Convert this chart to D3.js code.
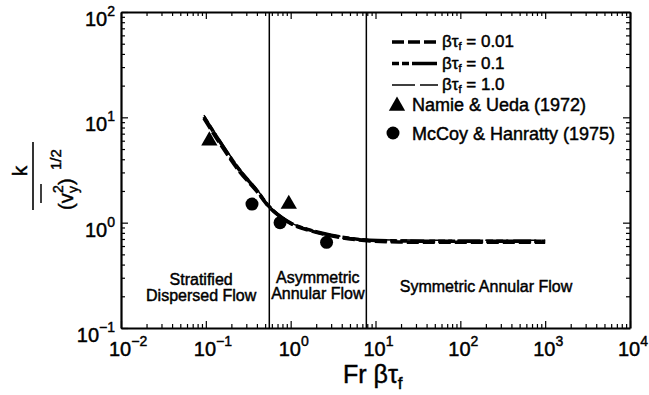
<!DOCTYPE html>
<html><head><meta charset="utf-8">
<script src="https://cdn.jsdelivr.net/npm/d3@7"></script>
<style>
body{margin:0;background:#fff;}
text{font-family:"Liberation Sans",Arial,Helvetica,sans-serif;fill:#000;stroke:#000;stroke-width:0.45px;}
</style></head>
<body><svg id="chart" width="649" height="395"></svg>
<script>
// ---- data ----
const curveX   = [0.095, 0.15, 0.25, 0.4, 0.55, 0.8, 1.0, 1.7, 3, 5, 8.6, 20, 50, 100, 300, 1000];
const bt001    = [9.8, 5.5, 3.05, 1.98, 1.42, 1.10, 0.98, 0.84, 0.75, 0.70, 0.67, 0.655, 0.65, 0.65, 0.65, 0.65];
const bt01     = [10.1, 5.7, 3.15, 2.02, 1.44, 1.11, 0.99, 0.85, 0.76, 0.71, 0.68, 0.67, 0.665, 0.665, 0.665, 0.665];
const bt1      = [10.5, 5.9, 3.25, 2.08, 1.47, 1.13, 1.00, 0.86, 0.77, 0.72, 0.69, 0.685, 0.68, 0.68, 0.68, 0.68];
const namieX   = [0.11, 0.95];
const namieY   = [6.0, 1.5];
const mccoyX   = [0.35, 0.75, 2.65];
const mccoyY   = [1.5, 1.0, 0.65];
const regimeBounds = [0.56, 7.8];
const xExps = [-2, -1, 0, 1, 2, 3, 4];
const yExps = [-1, 0, 1, 2];
const legendLines = ["0.01", "0.1", "1.0"];
const legendMarks = ["Namie & Ueda (1972)", "McCoy & Hanratty (1975)"];

const svg = d3.select("#chart");
const L = 121, R = 630, T = 12, B = 328;
const x = d3.scaleLog().domain([1e-2, 1e4]).range([L, R]);
const y = d3.scaleLog().domain([1e-1, 1e2]).range([B, T]);

function allTicks(e0, e1){ const t=[]; for(let e=e0;e<e1;e++) for(let m=1;m<10;m++) t.push(m*Math.pow(10,e)); t.push(Math.pow(10,e1)); return t; }
const xt = allTicks(-2,4), yt = allTicks(-1,2);
const isMajor = v => Math.abs(Math.log10(v) - Math.round(Math.log10(v))) < 1e-9;
const MAJ = 7, MIN = 4;

function styleAxis(g, dirSign, horiz){
  g.selectAll("text").remove();
  g.select(".domain").attr("stroke-width", 2.2);
  g.selectAll(".tick line").attr("stroke-width", 1.2).each(function(d){
    const len = (isMajor(d) ? MAJ : MIN) * dirSign;
    d3.select(this).attr(horiz ? "y2" : "x2", len);
  });
}
svg.append("g").attr("transform",`translate(0,${B})`).call(d3.axisBottom(x).tickValues(xt).tickSizeOuter(0)).call(g=>styleAxis(g,-1,true));
svg.append("g").attr("transform",`translate(0,${T})`).call(d3.axisTop(x).tickValues(xt).tickSizeOuter(0)).call(g=>styleAxis(g,1,true));
svg.append("g").attr("transform",`translate(${L},0)`).call(d3.axisLeft(y).tickValues(yt).tickSizeOuter(0)).call(g=>styleAxis(g,1,false));
svg.append("g").attr("transform",`translate(${R},0)`).call(d3.axisRight(y).tickValues(yt).tickSizeOuter(0)).call(g=>styleAxis(g,-1,false));

const fmtExp = e => e < 0 ? "\u2212" + (-e) : String(e);
// x tick labels
xExps.forEach(e=>{
  const t = svg.append("text").attr("x", x(Math.pow(10,e)) - 12).attr("y", 356).attr("font-size", 20);
  t.append("tspan").text("10");
  t.append("tspan").attr("dy", -10).attr("font-size", 14).text(fmtExp(e));
});
// y tick labels
yExps.forEach(e=>{
  const t = svg.append("text").attr("x", 115).attr("y", y(Math.pow(10,e)) + 14).attr("font-size", 20).attr("text-anchor","end");
  t.append("tspan").text("10");
  t.append("tspan").attr("dy", -10).attr("font-size", 14).text(fmtExp(e));
});

// regime boundaries
regimeBounds.forEach(v=>{
  svg.append("line").attr("x1", x(v)).attr("x2", x(v)).attr("y1", T).attr("y2", B).attr("stroke","#000").attr("stroke-width",1.5);
});
// regime labels
function label(lines, cx, y0){
  lines.forEach((s,i)=> svg.append("text").attr("x", cx).attr("y", y0 + i*16).attr("text-anchor","middle").attr("font-size",16).text(s));
}
label(["Stratified","Dispersed Flow"], (x(0.01)+x(regimeBounds[0]))/2 + 6, 285);
label(["Asymmetric","Annular Flow"], (x(regimeBounds[0])+x(regimeBounds[1]))/2, 283);
label(["Symmetric Annular Flow"], 486, 292);

// curves
const line = d3.line().x(d=>x(d[0])).y(d=>y(d[1])).curve(d3.curveMonotoneX);
const styles = [
  {data: bt001, w: 3.5, dash: "12,4"},
  {data: bt01,  w: 3.5, dash: "7,3,7,3,25,3"},
  {data: bt1,   w: 1.5, dash: "23,5"}
];
styles.forEach(s=>{
  svg.append("path").datum(curveX.map((v,i)=>[v, s.data[i]]))
    .attr("d", line).attr("fill","none").attr("stroke","#000")
    .attr("stroke-width", s.w).attr("stroke-dasharray", s.dash);
});

// markers
const tri = d3.symbol().type(d3.symbolTriangle).size(115);
namieX.forEach((v,i)=> svg.append("path").attr("d", tri()).attr("transform",`translate(${x(v)},${y(namieY[i])})`).attr("fill","#000"));
mccoyX.forEach((v,i)=> svg.append("circle").attr("cx", x(v)).attr("cy", y(mccoyY[i])).attr("r", 6.5).attr("fill","#000"));

// legend
const lg = svg.append("g");
legendLines.forEach((lab,i)=>{
  const ly = 42 + i*21.5;
  lg.append("line").attr("x1",392).attr("x2",438).attr("y1",ly).attr("y2",ly)
    .attr("stroke","#000").attr("stroke-width", styles[i].w).attr("stroke-dasharray", styles[i].dash);
  const t = lg.append("text").attr("x", 442).attr("y", ly + 5).attr("font-size", 17);
  t.append("tspan").text("\u03B2\u03C4");
  t.append("tspan").attr("dy", 3).attr("font-size", 11).text("f");
  t.append("tspan").attr("dy", -3).text(" = " + lab);
});
lg.append("path").attr("d", tri()).attr("transform","translate(397,106)").attr("fill","#000");
lg.append("text").attr("x", 412).attr("y", 110.5).attr("font-size", 18).text(legendMarks[0]);
lg.append("circle").attr("cx",393).attr("cy",133).attr("r",6.5).attr("fill","#000");
lg.append("text").attr("x", 412).attr("y", 140).attr("font-size", 18).text(legendMarks[1]);

// x axis title
const xt2 = svg.append("text").attr("x", 343).attr("y", 383).attr("font-size", 25);
xt2.append("tspan").text("Fr \u03B2\u03C4");
xt2.append("tspan").attr("dy", 6).attr("font-size", 17).text("f");

// y axis title (rotated fraction)
const yl = svg.append("g").attr("transform","translate(33,176) rotate(-90)");
yl.append("line").attr("x1",-34).attr("x2",34).attr("y1",0).attr("y2",0).attr("stroke","#000").attr("stroke-width",1.6);
yl.append("text").attr("x",5).attr("y",-6).attr("text-anchor","middle").attr("font-size",21).text("k");
yl.append("text").attr("x",-34).attr("y",40).attr("font-size",20).text("(v");
yl.append("text").attr("x",-17).attr("y",30).attr("font-size",14).text("2");
yl.append("text").attr("x",-17).attr("y",45).attr("font-size",14).text("y");
yl.append("text").attr("x",-9).attr("y",40).attr("font-size",20).text(")");
yl.append("line").attr("x1",-27).attr("x2",-8).attr("y1",8).attr("y2",8).attr("stroke","#000").attr("stroke-width",1.5);
yl.append("text").attr("x",6).attr("y",28).attr("font-size",15).text("1/2");
</script></body></html>
